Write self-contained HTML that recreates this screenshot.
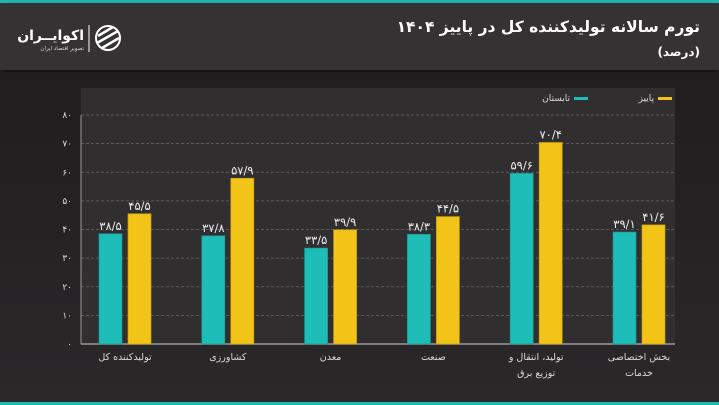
<!DOCTYPE html>
<html><head><meta charset="utf-8">
<style>
html,body{margin:0;padding:0}
body{width:719px;height:405px;overflow:hidden;background:#232122;font-family:"DejaVu Sans","Liberation Sans",sans-serif;position:relative}
#top{position:absolute;left:0;top:0;width:719px;height:3px;background:#1fb8b4}
#header{position:absolute;left:0;top:3px;width:719px;height:67px;background:#343233;box-shadow:0 3px 6px rgba(0,0,0,.5)}
#bottom{position:absolute;left:0;top:402px;width:719px;height:3px;background:#1fb8b4}
svg{position:absolute;left:0;top:0}
</style></head><body>
<div id="top"></div>
<div id="header"></div>
<div id="bottom"></div>
<svg id="chart" width="719" height="405">
<defs><linearGradient id="bg" x1="0" y1="0" x2="0" y2="1"><stop offset="0" stop-color="#1f1d1e"/><stop offset="1" stop-color="#2a2829"/></linearGradient></defs>
<rect x="0" y="72" width="719" height="330" fill="url(#bg)"/>
<rect x="81" y="88" width="594" height="256" fill="#302e2f"/>
<text x="700" y="32" fill="#fff" font-size="15.5" font-weight="bold" text-anchor="end">تورم سالانه تولیدکننده کل در پاییز ۱۴۰۴</text>
<text x="700" y="56" fill="#fff" font-size="12" font-weight="bold" text-anchor="end">(درصد)</text>
<g>
<circle cx="108" cy="38" r="12" fill="none" stroke="#fff" stroke-width="2"/>
<path d="M98 36 L113 27 M97 43 L118 31 M102 48 L119 38" stroke="#fff" stroke-width="2.5"/>
<line x1="89" y1="25" x2="89" y2="52" stroke="#fff" stroke-width="1"/>
<text x="84" y="40" fill="#fff" font-size="14" font-weight="bold" text-anchor="end">اکوایــران</text>
<text x="84" y="50" fill="#ddd" font-size="5.5" text-anchor="end">تصویر اقتصاد ایران</text>
</g>
<g>
<rect x="658" y="97" width="14" height="3" fill="#f2c418"/>
<text x="654" y="101" fill="#ddd" font-size="9" text-anchor="end">پاییز</text>
<rect x="574" y="97" width="14" height="3" fill="#1fbdb8"/>
<text x="570" y="101" fill="#ddd" font-size="9" text-anchor="end">تابستان</text>
</g>
<g id="grid"></g><g id="bars"></g><g id="labels"></g>
</svg>
<script>
const categories=[["تولیدکننده کل"],["کشاورزی"],["معدن"],["صنعت"],["تولید، انتقال و","توزیع برق"],["بخش اختصاصی","خدمات"]];
const summer=[38.5,37.8,33.5,38.3,59.6,39.1];
const autumn=[45.5,57.9,39.9,44.5,70.4,41.6];
const summerLabels=["۳۸/۵","۳۷/۸","۳۳/۵","۳۸/۳","۵۹/۶","۳۹/۱"];
const autumnLabels=["۴۵/۵","۵۷/۹","۳۹/۹","۴۴/۵","۷۰/۴","۴۱/۶"];
const ticks=[0,10,20,30,40,50,60,70,80];
const tickLabels=["۰","۱۰","۲۰","۳۰","۴۰","۵۰","۶۰","۷۰","۸۰"];
const NS="http://www.w3.org/2000/svg";
const y=v=>344-v*(229/80);
const xc=i=>125+i*102.8;
function mk(t,a,p){const e=document.createElementNS(NS,t);for(const k in a)e.setAttribute(k,a[k]);p.appendChild(e);return e;}
const G=document.getElementById('grid'),B=document.getElementById('bars'),L=document.getElementById('labels');
ticks.forEach((t,i)=>{
 if(t>0){const l=mk('line',{x1:81,x2:675,y1:y(t),y2:y(t),stroke:'#6a6869','stroke-dasharray':'3,2','stroke-width':0.7},G);
 
 }
 const tx=mk('text',{x:72,y:y(t)+3,fill:'#ddd','font-size':9,'text-anchor':'end'},G);tx.textContent=tickLabels[i];
 
 
});
const ax=mk('line',{x1:81,x2:81,y1:115,y2:344,stroke:'#999','stroke-width':1},G);


const bx=mk('line',{x1:81,x2:675,y1:344,y2:344,stroke:'#999','stroke-width':1.5},G);


categories.forEach((c,i)=>{
 const cx=xc(i);
 const b1=mk('rect',{x:cx-26,y:y(summer[i]),width:23,height:344-y(summer[i]),fill:'#1fbdb8',stroke:'#189a96','stroke-width':0.7},B);
 
 
 const b2=mk('rect',{x:cx+3,y:y(autumn[i]),width:23,height:344-y(autumn[i]),fill:'#f2c418',stroke:'#c89e10','stroke-width':0.7},B);
 
 
 const t1=mk('text',{x:cx-14.5,y:y(summer[i])-4,fill:'#eee','font-size':11.5,'text-anchor':'middle'},L);t1.textContent=summerLabels[i];
 
 
 const t2=mk('text',{x:cx+14.5,y:y(autumn[i])-4,fill:'#eee','font-size':11.5,'text-anchor':'middle'},L);t2.textContent=autumnLabels[i];
 
 
 c.forEach((line,j)=>{
  const ct=mk('text',{x:cx,y:360+j*16,fill:'#ddd','font-size':9.5,'text-anchor':'middle'},L);ct.textContent=line;
  
  
 });
});
</script>
</body></html>
